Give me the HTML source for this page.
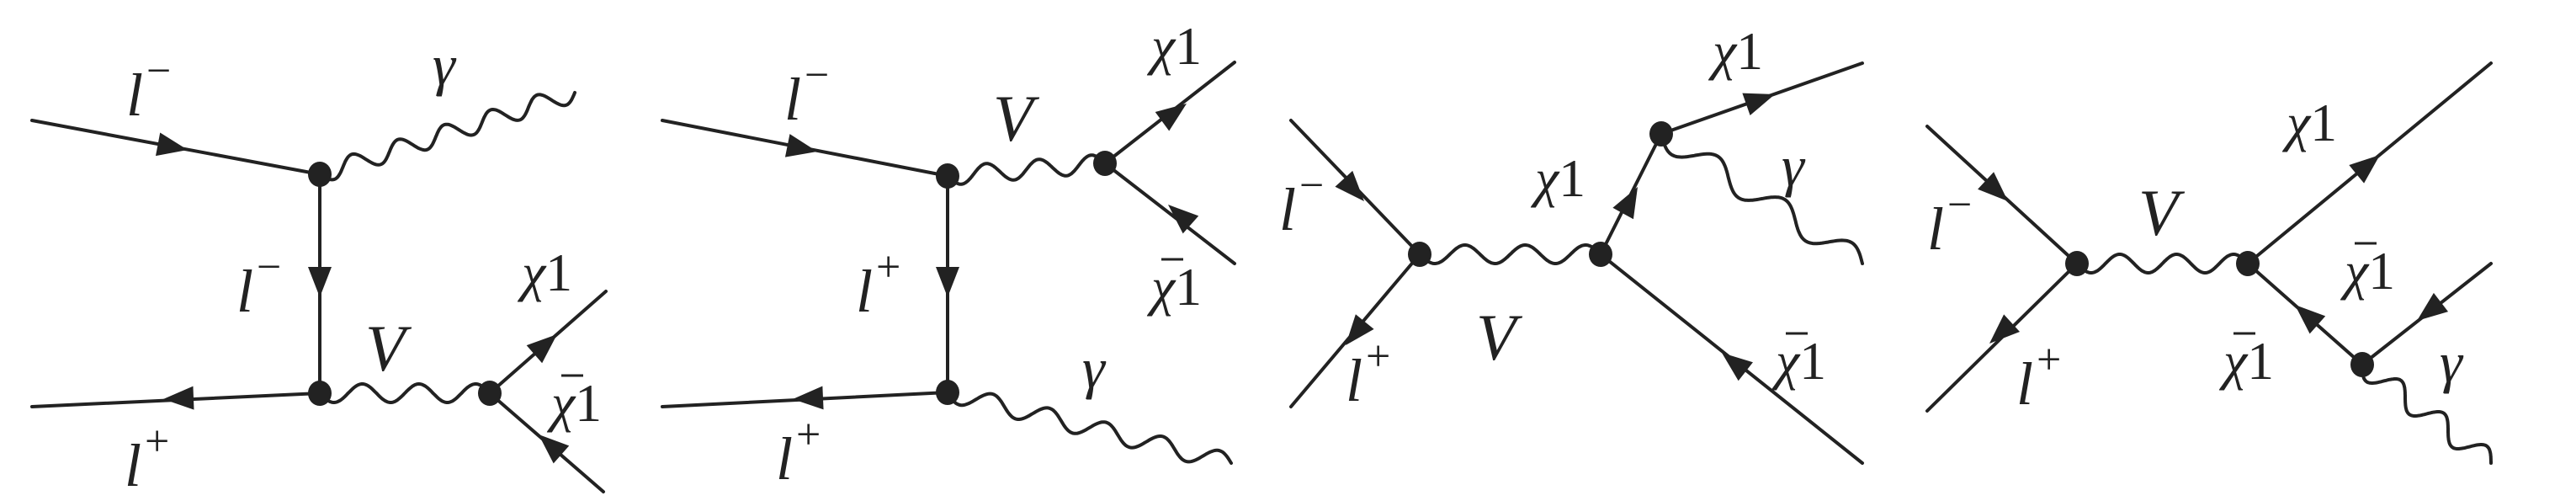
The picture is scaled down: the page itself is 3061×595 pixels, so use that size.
<!DOCTYPE html>
<html><head><meta charset="utf-8"><style>
html,body{margin:0;padding:0;background:#fff;}
svg{display:block;}
text{font-family:"Liberation Serif",serif;fill:#222;}
.i{font-style:italic;}
</style></head><body>
<svg id="s" width="3061" height="595" viewBox="0 0 3061 595" xmlns="http://www.w3.org/2000/svg">
<g id="g" stroke="#222" stroke-width="4" fill="none" stroke-linecap="round"></g>
<g id="f" fill="#222"></g>
<g font-size="64">
<!-- diagram 1 -->
<text x="150" y="137" class="i" font-size="72">l<tspan font-size="52" dy="-36" dx="4" font-style="normal">−</tspan></text>
<text x="514" y="100" class="i" font-size="68">γ</text>
<text x="281" y="370" class="i" font-size="72">l<tspan font-size="52" dy="-36" dx="4" font-style="normal">−</tspan></text>
<text x="434" y="440" class="i" font-size="78">V</text>
<text x="620" y="345"><tspan class="i">χ</tspan>1</text>
<text x="655" y="500"><tspan class="i">χ</tspan>1</text>
<text x="148" y="577" class="i" font-size="72">l<tspan font-size="52" dy="-36" dx="4" font-style="normal">+</tspan></text>
<!-- diagram 2 -->
<text x="932" y="142" class="i" font-size="72">l<tspan font-size="52" dy="-36" dx="4" font-style="normal">−</tspan></text>
<text x="1180" y="167" class="i" font-size="78">V</text>
<text x="1368" y="76"><tspan class="i">χ</tspan>1</text>
<text x="1017" y="370" class="i" font-size="72">l<tspan font-size="52" dy="-36" dx="4" font-style="normal">+</tspan></text>
<text x="1368" y="362"><tspan class="i">χ</tspan>1</text>
<text x="1286" y="460" class="i" font-size="68">γ</text>
<text x="922" y="569" class="i" font-size="72">l<tspan font-size="52" dy="-36" dx="4" font-style="normal">+</tspan></text>
<!-- diagram 3 -->
<text x="1520" y="273" class="i" font-size="72">l<tspan font-size="52" dy="-36" dx="4" font-style="normal">−</tspan></text>
<text x="2035" y="82"><tspan class="i">χ</tspan>1</text>
<text x="1824" y="233"><tspan class="i">χ</tspan>1</text>
<text x="2117" y="220" class="i" font-size="68">γ</text>
<text x="1754" y="427" class="i" font-size="78">V</text>
<text x="1599" y="476" class="i" font-size="72">l<tspan font-size="52" dy="-36" dx="4" font-style="normal">+</tspan></text>
<text x="2110" y="450"><tspan class="i">χ</tspan>1</text>
<!-- diagram 4 -->
<text x="2290" y="296" class="i" font-size="72">l<tspan font-size="52" dy="-36" dx="4" font-style="normal">−</tspan></text>
<text x="2541" y="279" class="i" font-size="78">V</text>
<text x="2717" y="167"><tspan class="i">χ</tspan>1</text>
<text x="2786" y="343"><tspan class="i">χ</tspan>1</text>
<text x="2642" y="450"><tspan class="i">χ</tspan>1</text>
<text x="2396" y="480" class="i" font-size="72">l<tspan font-size="52" dy="-36" dx="4" font-style="normal">+</tspan></text>
<text x="2899" y="453" class="i" font-size="68">γ</text>
</g>
<g stroke="#222" stroke-width="3">
<line x1="667" y1="446" x2="693" y2="446"/>
<line x1="1380" y1="308" x2="1406" y2="308"/>
<line x1="2122" y1="396" x2="2148" y2="396"/>
<line x1="2798" y1="289" x2="2824" y2="289"/>
<line x1="2654" y1="396" x2="2680" y2="396"/>
</g>
</svg>
<script>
var NS="http://www.w3.org/2000/svg",g=document.getElementById('g'),f=document.getElementById('f');
function el(p,t,a){var e=document.createElementNS(NS,t);for(var k in a)e.setAttribute(k,a[k]);p.appendChild(e);return e;}
function L(a,b){el(g,'line',{x1:a[0],y1:a[1],x2:b[0],y2:b[1]});}
function W(a,b,n,amp){var dx=b[0]-a[0],dy=b[1]-a[1],len=Math.hypot(dx,dy),ux=dx/len,uy=dy/len,nx=-uy,ny=ux;var d='';var N=200;for(var i=0;i<=N;i++){var t=i/N,s=amp*Math.sin(t*n*2*Math.PI);var x=a[0]+dx*t+nx*s,y=a[1]+dy*t+ny*s;d+=(i?'L':'M')+x.toFixed(1)+','+y.toFixed(1);}el(g,'path',{d:d});}
function A(tip,from){var dx=tip[0]-from[0],dy=tip[1]-from[1],l=Math.hypot(dx,dy),ux=dx/l,uy=dy/l;var Ln=36,w=14;var bx=tip[0]-ux*Ln,by=tip[1]-uy*Ln;el(f,'polygon',{points:tip[0]+','+tip[1]+' '+(bx-uy*w)+','+(by+ux*w)+' '+(bx+uy*w)+','+(by-ux*w)});}
function D(p){el(f,'ellipse',{cx:p[0],cy:p[1],rx:14,ry:15});}
var A1=[380,207],B1=[380,467],C1=[582,467];
L([38,143],A1);A([223,178],[38,143]);
L(A1,B1);A([380,353],A1);
L([38,483],B1);A([194,474],B1);
W(A1,[683,110],5.5,11);W(B1,C1,3,11);
L(C1,[720,346]);A([662,397],C1);
L(C1,[717,584]);A([640,516],[717,584]);
D(A1);D(B1);D(C1);
var A2=[1126,209],B2=[1126,466],C2=[1313,194];
L([787,143],A2);A([971,180],[787,143]);
L(A2,B2);A([1126,353],A2);
L([787,483],B2);A([942,474],B2);
W(A2,C2,3,11);W(B2,[1463,550],5,11);
L(C2,[1467,74]);A([1410,123],C2);
L(C2,[1467,313]);A([1388,243],[1467,313]);
D(A2);D(B2);D(C2);
var D3=[1687,302],E3=[1902,302],F3=[1974,159];
L([1534,143],D3);A([1621,239],[1534,143]);
L(D3,[1534,483]);A([1599,410],D3);
W(D3,E3,3,11);
L(E3,F3);A([1946,222],E3);
L(F3,[2213,75]);A([2109,112],F3);
W(F3,[2213,313],3,14);
L(E3,[2213,550]);A([2046,419],[2213,550]);
D(D3);D(E3);D(F3);
var G4=[2468,313],H4=[2671,313],I4=[2807,433];
L([2290,150],G4);A([2386,239],[2290,150]);
L(G4,[2290,488]);A([2364,408],G4);
W(G4,H4,3,11);
L(H4,[2960,75]);A([2828,184],H4);
L(H4,I4);A([2727,362],I4);
L(I4,[2960,313]);A([2872,381],[2960,313]);
W(I4,[2960,550],3,13);
D(G4);D(H4);D(I4);
</script>
</body></html>
